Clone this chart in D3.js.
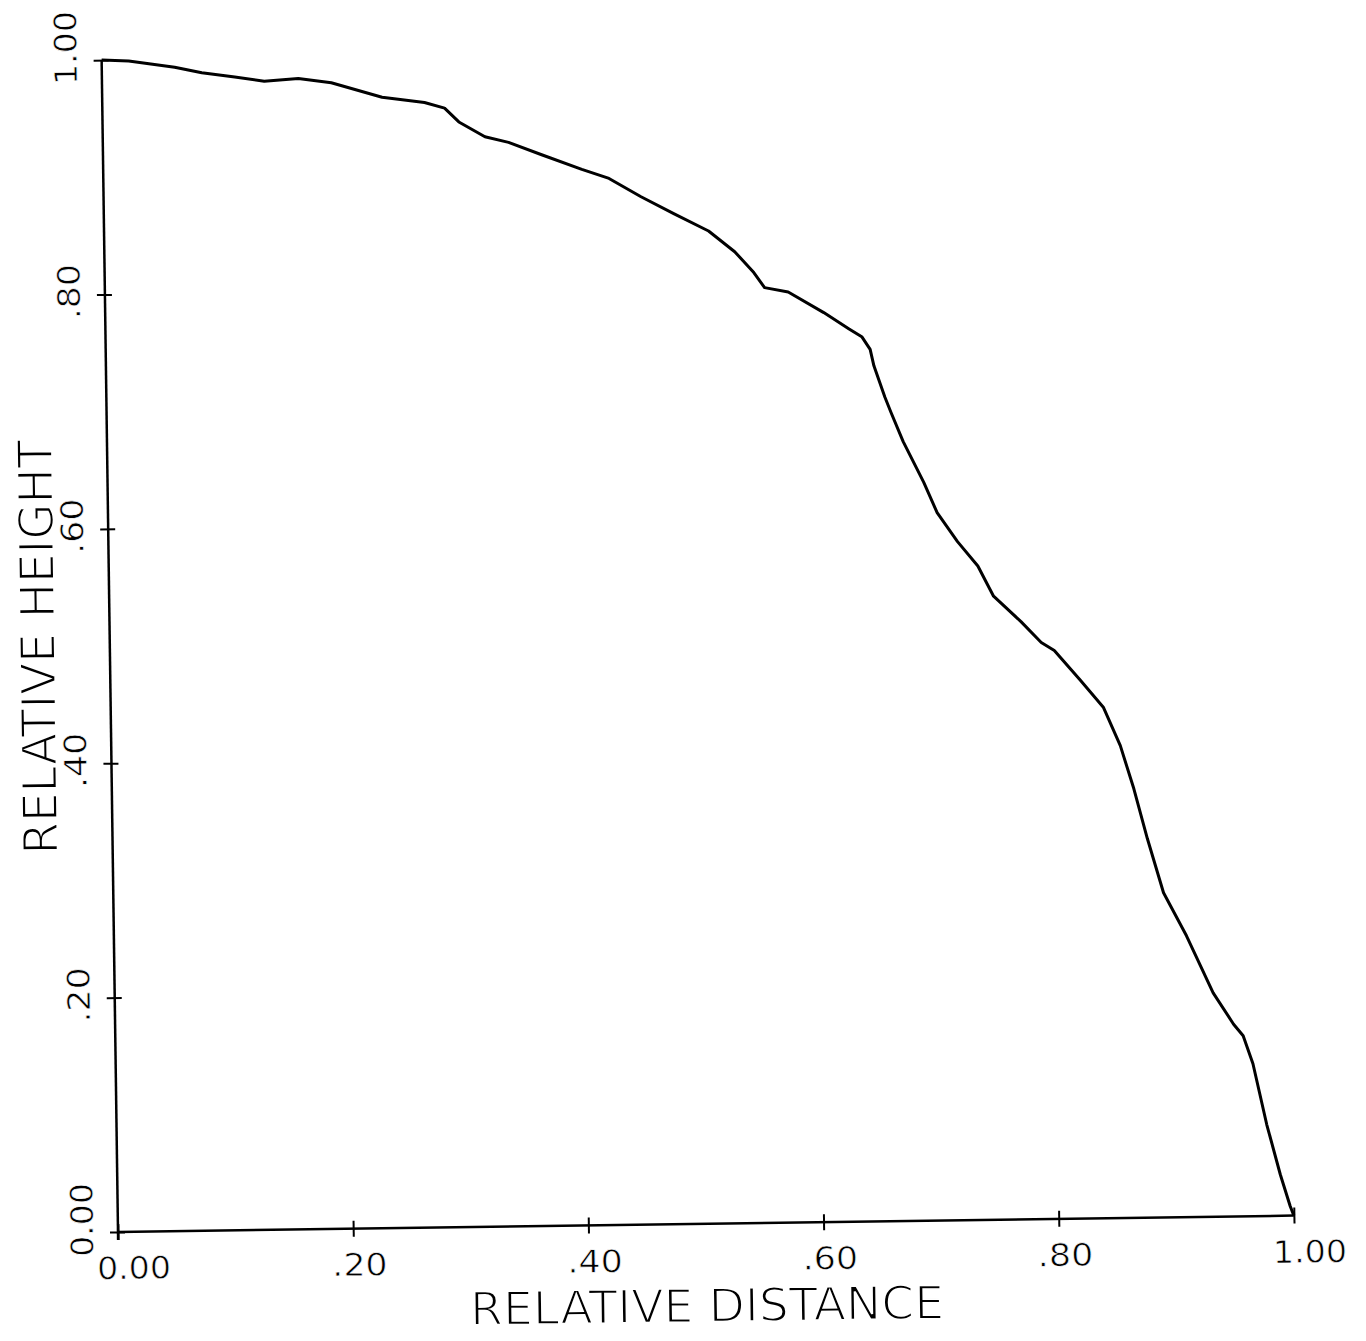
<!DOCTYPE html>
<html>
<head>
<meta charset="utf-8">
<script src="https://cdn.jsdelivr.net/npm/d3@7"></script>
<style>
  body { margin: 0; background: #fff; }
  svg text { font-family: "Liberation Sans Narrow", "DejaVu Sans Condensed", "Liberation Sans", sans-serif; fill: #000; }
  /* thin the glyphs a little so they look more like pen-plotter lettering */
  svg text.thin { stroke: #fff; stroke-width: 0.6px; }
  svg text.thin-big { stroke: #fff; stroke-width: 1.8px; }
</style>
</head>
<body>
<script>
// relative distance (x) and relative height (y)
var distance = [0.000, 0.023, 0.062, 0.085, 0.113, 0.138, 0.167, 0.195, 0.238, 0.274,
                0.291, 0.303, 0.325, 0.345, 0.373, 0.407, 0.430, 0.457, 0.485, 0.514,
                0.536, 0.552, 0.561, 0.581, 0.611, 0.632, 0.643, 0.650, 0.653, 0.662,
                0.667, 0.677, 0.694, 0.705, 0.722, 0.739, 0.752, 0.775, 0.792, 0.803,
                0.825, 0.844, 0.858, 0.869, 0.880, 0.893, 0.912, 0.934, 0.951, 0.959,
                0.967, 0.978, 0.989, 0.997, 1.000]
var height_rel = [1.000, 0.999, 0.993, 0.988, 0.984, 0.980, 0.982, 0.978, 0.965, 0.960,
                  0.955, 0.943, 0.930, 0.925, 0.914, 0.901, 0.893, 0.877, 0.862, 0.847,
                  0.829, 0.811, 0.798, 0.794, 0.776, 0.762, 0.755, 0.744, 0.730, 0.703,
                  0.690, 0.665, 0.630, 0.604, 0.579, 0.558, 0.532, 0.510, 0.492, 0.485,
                  0.459, 0.436, 0.403, 0.366, 0.323, 0.277, 0.240, 0.191, 0.164, 0.154,
                  0.130, 0.078, 0.035, 0.008, 0.000]

var tick_values = [0, 0.2, 0.4, 0.6, 0.8, 1.0]
var x_tick_labels = ["0.00", ".20", ".40", ".60", ".80", "1.00"]
var y_tick_labels = ["0.00", ".20", ".40", ".60", ".80", "1.00"]

var width = 1366,
    height = 1341,
    origin = {x: 118, y: 1232},
    plot_w = 1176,
    plot_h = 1172;

var svg = d3.select("body")
    .append("svg")
    .attr("width", width)
    .attr("height", height)

// the scanned page is slightly tilted, so rotate everything round the origin
var g = svg.append("g")
    .attr("transform", "translate(" + origin.x + "," + origin.y + ") rotate(-0.8)")

var x_scale = d3.scaleLinear()
    .domain([0, 1])
    .range([0, plot_w]);

var y_scale = d3.scaleLinear()
    .domain([0, 1])
    .range([0, -plot_h]);

// x axis
var xAxis = d3.axisBottom()
    .scale(x_scale)
    .tickValues(tick_values)
    .tickSize(8)
    .tickFormat(function(d, i) { return x_tick_labels[i]; });

var gX = g.append("g").call(xAxis)
gX.select(".domain").attr("d", "M0,0H" + plot_w).attr("stroke-width", 2.5)
gX.selectAll(".tick line").attr("y1", -8).attr("y2", 8).attr("stroke-width", 2)
gX.selectAll(".tick text")
    .attr("class", "thin")
    .attr("y", 47)
    .attr("dy", null)
    .attr("x", -22)
    .attr("text-anchor", "start")
    .attr("font-size", 31)
    .attr("textLength", function(d, i) { return x_tick_labels[i].length * 18.5; })
    .attr("lengthAdjust", "spacingAndGlyphs")

// y axis
var yAxis = d3.axisLeft()
    .scale(y_scale)
    .tickValues(tick_values)
    .tickSize(8)
    .tickFormat(function(d, i) { return y_tick_labels[i]; });

var gY = g.append("g").call(yAxis)
gY.select(".domain").attr("d", "M0,8V" + (-plot_h)).attr("stroke-width", 2.5)
gY.selectAll(".tick line").attr("x1", -8).attr("x2", 7).attr("stroke-width", 2)
gY.selectAll(".tick text")
    .attr("class", "thin")
    .attr("transform", "rotate(-90)")
    .attr("x", -24)
    .attr("y", -25)
    .attr("dy", null)
    .attr("text-anchor", "start")
    .attr("font-size", 31)
    .attr("textLength", function(d, i) { return y_tick_labels[i].length * 18.5; })
    .attr("lengthAdjust", "spacingAndGlyphs")

g.selectAll(".tick text").attr("fill", "#000")
g.selectAll(".domain, .tick line").attr("stroke", "#000")

// the curve
var points = distance.map(function(d, i) { return [d, height_rel[i]]; })

var line = d3.line()
    .x(function(d) { return x_scale(d[0]); })
    .y(function(d) { return y_scale(d[1]); })

g.append("path")
    .datum(points)
    .attr("d", line)
    .attr("fill", "none")
    .attr("stroke", "#000")
    .attr("stroke-width", 3)
    .attr("stroke-linejoin", "round")

// axis titles
g.append("text")
    .attr("class", "thin-big")
    .attr("x", plot_w / 2)
    .attr("y", 98)
    .attr("text-anchor", "middle")
    .attr("font-size", 46)
    .attr("textLength", 474)
    .attr("lengthAdjust", "spacingAndGlyphs")
    .text("RELATIVE DISTANCE")

g.append("text")
    .attr("class", "thin-big")
    .attr("transform", "rotate(-90)")
    .attr("x", plot_h / 2)
    .attr("y", -55)
    .attr("text-anchor", "middle")
    .attr("font-size", 48)
    .attr("textLength", 415)
    .attr("lengthAdjust", "spacingAndGlyphs")
    .text("RELATIVE HEIGHT")
</script>
</body>
</html>
